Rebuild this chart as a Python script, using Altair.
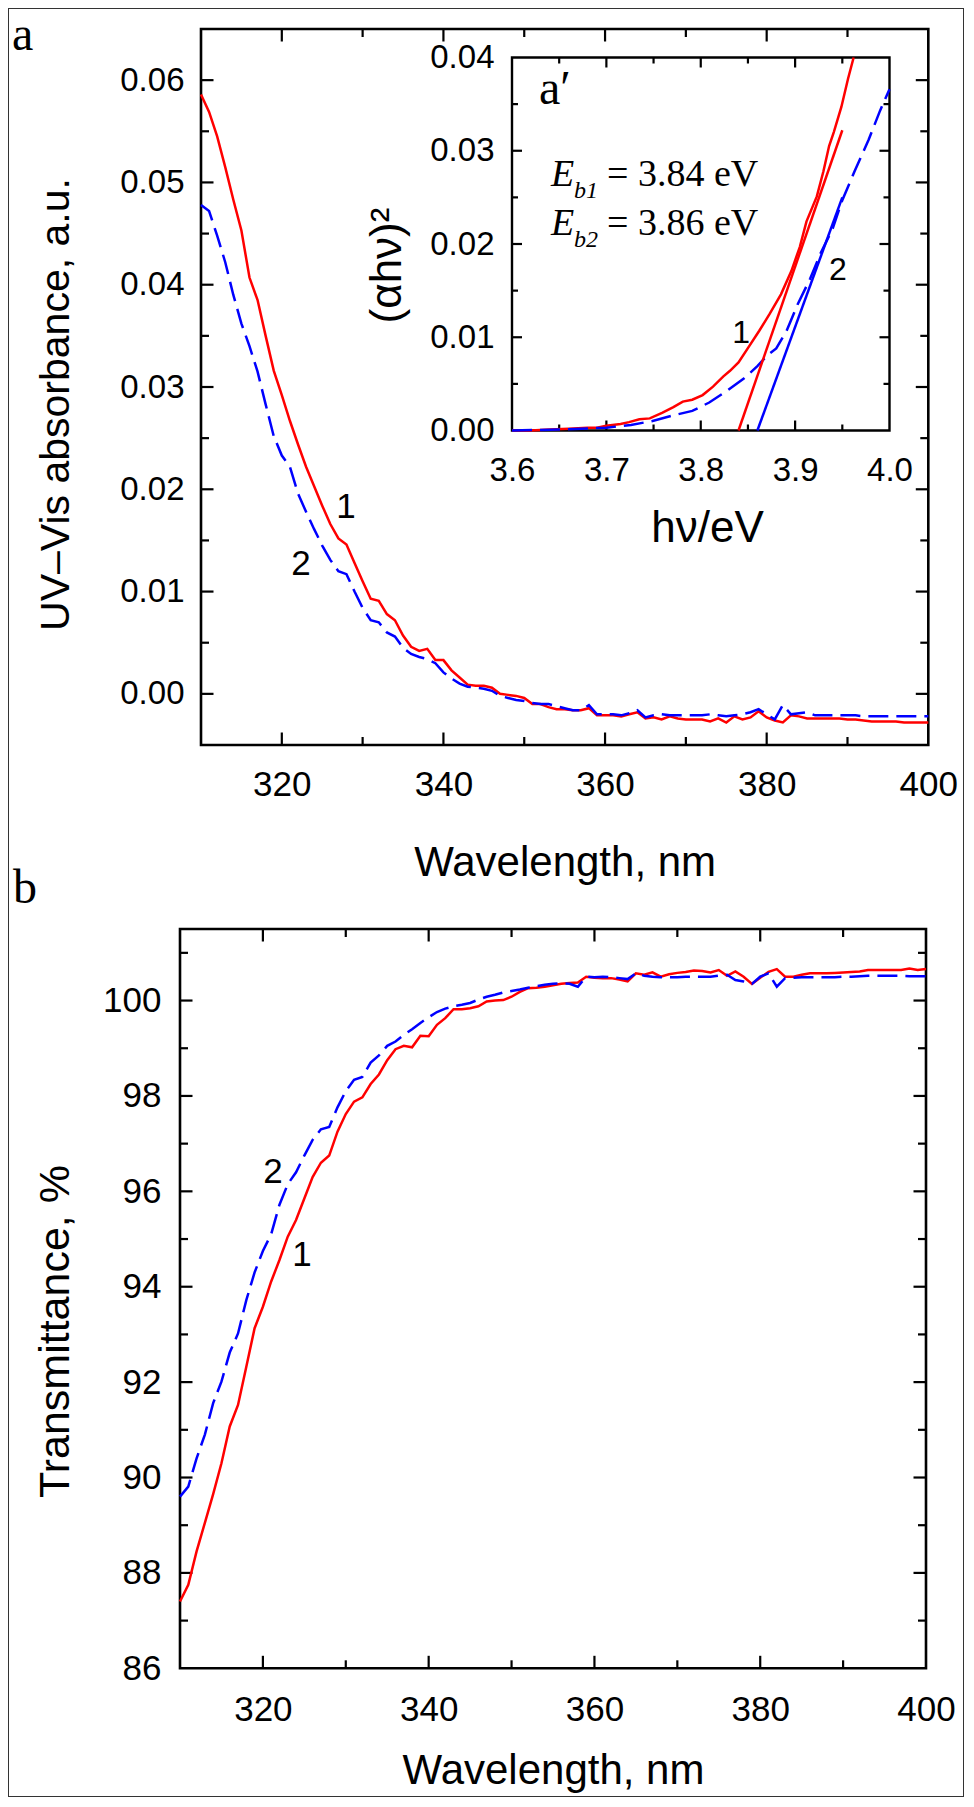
import altair as alt
import pandas as pd

# ---------------- data ----------------
wavelength = list(range(310, 401))

absorbance_1 = [
    0.0586, 0.0569, 0.0545, 0.0515, 0.0483, 0.0453, 0.0407, 0.0385, 0.0350, 0.0316,
    0.0292, 0.0267, 0.0244, 0.0222, 0.0203, 0.0184, 0.0166, 0.0152, 0.0146, 0.0128,
    0.0110, 0.0093, 0.0091, 0.0078, 0.0072, 0.0057, 0.0046, 0.0042, 0.0044, 0.0033,
    0.0033, 0.0023, 0.0016, 0.0009, 0.0008, 0.0008, 0.0006, 0.0000, -0.0001, -0.0002,
    -0.0004, -0.0010, -0.0010, -0.0013, -0.0015, -0.0015, -0.0016, -0.0016, -0.0014, -0.0021,
    -0.0021, -0.0021, -0.0022, -0.0020, -0.0018, -0.0024, -0.0023, -0.0025, -0.0022, -0.0024,
    -0.0025, -0.0025, -0.0025, -0.0027, -0.0024, -0.0028, -0.0022, -0.0025, -0.0023, -0.0017,
    -0.0023, -0.0026, -0.0028, -0.0021, -0.0022, -0.0024, -0.0024, -0.0024, -0.0024, -0.0024,
    -0.0025, -0.0025, -0.0026, -0.0027, -0.0027, -0.0027, -0.0027, -0.0028, -0.0028, -0.0028,
    -0.0028,
]
absorbance_2 = [
    0.0478, 0.0472, 0.0448, 0.0422, 0.0390, 0.0362, 0.0340, 0.0315, 0.0283, 0.0252,
    0.0233, 0.0222, 0.0196, 0.0178, 0.0161, 0.0145, 0.0131, 0.0120, 0.0117, 0.0100,
    0.0084, 0.0072, 0.0070, 0.0060, 0.0056, 0.0045, 0.0039, 0.0036, 0.0034, 0.0030,
    0.0021, 0.0015, 0.0010, 0.0007, 0.0006, 0.0005, 0.0003, -0.0002, -0.0004, -0.0006,
    -0.0007, -0.0009, -0.0010, -0.0010, -0.0012, -0.0014, -0.0016, -0.0016, -0.0011, -0.0020,
    -0.0020, -0.0020, -0.0021, -0.0019, -0.0016, -0.0023, -0.0021, -0.0020, -0.0021, -0.0021,
    -0.0021, -0.0021, -0.0021, -0.0020, -0.0021, -0.0022, -0.0021, -0.0020, -0.0018, -0.0015,
    -0.0020, -0.0025, -0.0011, -0.0020, -0.0019, -0.0018, -0.0021, -0.0021, -0.0021, -0.0021,
    -0.0021, -0.0021, -0.0022, -0.0022, -0.0022, -0.0022, -0.0022, -0.0022, -0.0022, -0.0022,
    -0.0022,
]
transmittance_1 = [
    87.40, 87.75, 88.45, 89.05, 89.65, 90.30, 91.07, 91.52, 92.32, 93.13,
    93.58, 94.11, 94.56, 95.05, 95.40, 95.85, 96.30, 96.60, 96.75, 97.25,
    97.62, 97.88, 97.97, 98.25, 98.45, 98.75, 98.98, 99.05, 99.02, 99.26,
    99.25, 99.49, 99.63, 99.82, 99.82, 99.84, 99.88, 99.98, 100.00, 100.01,
    100.08, 100.18, 100.26, 100.27, 100.29, 100.32, 100.35, 100.37, 100.38, 100.50,
    100.48, 100.47, 100.47, 100.44, 100.40, 100.57, 100.54, 100.59, 100.50, 100.55,
    100.58, 100.60, 100.63, 100.62, 100.59, 100.64, 100.52, 100.61, 100.50, 100.35,
    100.48, 100.60, 100.66, 100.50, 100.50, 100.54, 100.57, 100.57, 100.57, 100.58,
    100.59, 100.60, 100.61, 100.64, 100.64, 100.64, 100.64, 100.64, 100.67, 100.64,
    100.66,
]
transmittance_2 = [
    89.60, 89.81, 90.40, 90.90, 91.56, 92.01, 92.62, 93.02, 93.72, 94.30,
    94.75, 95.10, 95.72, 96.15, 96.40, 96.75, 97.08, 97.30, 97.35, 97.76,
    98.10, 98.34, 98.40, 98.70, 98.85, 99.05, 99.14, 99.28, 99.40, 99.53,
    99.65, 99.76, 99.83, 99.88, 99.91, 99.95, 100.02, 100.08, 100.12, 100.17,
    100.20, 100.23, 100.27, 100.30, 100.33, 100.35, 100.36, 100.35, 100.29, 100.50,
    100.49, 100.50, 100.49, 100.47, 100.45, 100.57, 100.52, 100.50, 100.49, 100.49,
    100.49, 100.50, 100.50, 100.50, 100.50, 100.52, 100.54, 100.43, 100.40, 100.35,
    100.50, 100.57, 100.29, 100.47, 100.48, 100.49, 100.49, 100.49, 100.49, 100.49,
    100.50, 100.50, 100.51, 100.52, 100.52, 100.52, 100.52, 100.52, 100.51, 100.51,
    100.51,
]

inset_hv_1 = [3.600, 3.620, 3.640, 3.660, 3.680, 3.690, 3.700, 3.715, 3.724, 3.735,
              3.746, 3.759, 3.771, 3.781, 3.791, 3.802, 3.813, 3.824, 3.831, 3.840,
              3.851, 3.862, 3.873, 3.885, 3.896, 3.905, 3.912, 3.923, 3.930, 3.936,
              3.941, 3.949, 3.956, 3.962]
inset_val_1 = [0.0, 0.0, 0.0001, 0.0002, 0.0003, 0.0003, 0.0005, 0.0007, 0.0009, 0.0012,
               0.0013, 0.0019, 0.0025, 0.0031, 0.0033, 0.0038, 0.0047, 0.0058, 0.0064, 0.0073,
               0.0090, 0.0107, 0.0125, 0.0146, 0.0171, 0.0197, 0.0224, 0.0251, 0.0278, 0.0305,
               0.0320, 0.0347, 0.0377, 0.0400]
inset_hv_2 = [3.600, 3.650, 3.700, 3.726, 3.748, 3.770, 3.791, 3.809, 3.827, 3.846,
              3.860, 3.871, 3.880, 3.891, 3.903, 3.916, 3.927, 3.940, 3.950, 3.963,
              3.978, 3.990, 4.000]
inset_val_2 = [0.0, 0.0001, 0.0003, 0.0006, 0.0010, 0.0016, 0.0021, 0.0030, 0.0042, 0.0056,
               0.0069, 0.0081, 0.0088, 0.0107, 0.0136, 0.0163, 0.0190, 0.0217, 0.0247, 0.0278,
               0.0312, 0.0343, 0.0366]
fit_hv_1 = [3.84, 3.95]
fit_val_1 = [0.0, 0.0322]
fit_hv_2 = [3.86, 3.95]
fit_val_2 = [0.0, 0.0250]

wl_major = [320, 340, 360, 380]
wl_minor = [330, 350, 370, 390]
wl_labels = [320, 340, 360, 380, 400]
abs_major = [0.0, 0.01, 0.02, 0.03, 0.04, 0.05, 0.06]
abs_minor = [0.005, 0.015, 0.025, 0.035, 0.045, 0.055]
tr_major = [88, 90, 92, 94, 96, 98, 100]
tr_minor = [87, 89, 91, 93, 95, 97, 99, 101]
tr_labels = [86, 88, 90, 92, 94, 96, 98, 100]
hv_major = [3.7, 3.8, 3.9]
hv_minor = [3.65, 3.75, 3.85, 3.95]
hv_labels = [3.6, 3.7, 3.8, 3.9, 4.0]
ins_major = [0.01, 0.02, 0.03]
ins_minor = [0.005, 0.015, 0.025, 0.035]
ins_labels = [0.0, 0.01, 0.02, 0.03, 0.04]

# ---------------- layout / style ----------------
FONT = "Liberation Sans"
SERIF = "Liberation Serif"
RED = "#ff0000"
BLUE = "#0000ff"
W, H = 956, 1789


def xaxis(values, fmt, base, lsize, lpad, title, tsize, tx, ty):
    return alt.Axis(orient="bottom", offset=base - H, values=values, format=fmt,
                    ticks=False, domain=False, grid=False, labelFlush=False,
                    labelOverlap=False, labelFont=FONT, labelFontSize=lsize,
                    labelColor="black", labelPadding=lpad, title=title,
                    titleFont=FONT, titleFontSize=tsize, titleFontWeight="normal",
                    titleColor="black", titleX=tx, titleY=ty,
                    titleBaseline="alphabetic")


def yaxis(values, fmt, base, lsize, lpad, title, tsize, tx, ty):
    return alt.Axis(orient="left", offset=-base, values=values, format=fmt,
                    ticks=False, domain=False, grid=False, labelFlush=False,
                    labelOverlap=False, labelFont=FONT, labelFontSize=lsize,
                    labelColor="black", labelPadding=lpad, title=title,
                    titleFont=FONT, titleFontSize=tsize, titleFontWeight="normal",
                    titleColor="black", titleX=tx, titleY=ty,
                    titleBaseline="alphabetic")


TOP = dict(
    xd=[310, 400], yd=[-0.005, 0.065],
    xs=alt.Scale(domain=[310, 400], range=[193, 920.3], nice=False, zero=False),
    ys=alt.Scale(domain=[-0.005, 0.065], range=[737, 21], nice=False, zero=False),
    xa=xaxis(wl_labels, "d", 737, 35, 22, "Wavelength, nm", 42, 556.6, 130),
    ya=yaxis(abs_major, ".2f", 193, 33, 17, "UV–Vis absorbance, a.u.", 41, -133, 396),
)
INSET = dict(
    xd=[3.6, 4.0], yd=[0.0, 0.04],
    xs=alt.Scale(domain=[3.6, 4.0], range=[504, 881.5], nice=False, zero=False),
    ys=alt.Scale(domain=[0.0, 0.04], range=[422.5, 49.5], nice=False, zero=False),
    xa=xaxis(hv_labels, ".1f", 422.5, 33, 23.5, "hν/eV", 44, 699, 111),
    ya=yaxis(ins_labels, ".2f", 504, 33, 18, "(αhν)²", 44, -112, 257),
)
BOT = dict(
    xd=[310, 400], yd=[86, 101.5],
    xs=alt.Scale(domain=[310, 400], range=[172, 918], nice=False, zero=False),
    ys=alt.Scale(domain=[86, 101.5], range=[1660.3, 921], nice=False, zero=False),
    xa=xaxis(wl_labels, "d", 1660.3, 35, 24, "Wavelength, nm", 42, 545, 114.7),
    ya=yaxis(tr_labels, "d", 172, 35, 19, "Transmittance, %", 43, -112, 1323),
)


def X(p, field=None, datum=None):
    if field is not None:
        return alt.X(field, type="quantitative", scale=p["xs"], axis=p["xa"])
    return alt.XDatum(datum, type="quantitative", scale=p["xs"], axis=p["xa"])


def Y(p, field=None, datum=None):
    if field is not None:
        return alt.Y(field, type="quantitative", scale=p["ys"], axis=p["ya"])
    return alt.YDatum(datum, type="quantitative", scale=p["ys"], axis=p["ya"])


ONE = pd.DataFrame({"k": [0]})


def frame(p, fill=None, sw=2.6):
    (x0, x1), (y0, y1) = p["xd"], p["yd"]
    mk = dict(stroke="black", strokeWidth=sw)
    if fill:
        mk["fill"] = fill
    else:
        mk["filled"] = False
    return alt.Chart(ONE).mark_rect(**mk).encode(
        x=X(p, datum=x0), x2=alt.X2Datum(x1), y=Y(p, datum=y0), y2=alt.Y2Datum(y1))


def ticks(p, xvals, yvals, length, sw=2.2):
    (x0, x1), (y0, y1) = p["xd"], p["yd"]
    xdf = pd.DataFrame({"v": xvals})
    ydf = pd.DataFrame({"v": yvals})
    st = dict(color="black", strokeWidth=sw)
    return [
        alt.Chart(ydf).mark_rule(x2Offset=length, **st).encode(
            x=X(p, datum=x0), x2=alt.X2Datum(x0), y=Y(p, "v")),
        alt.Chart(ydf).mark_rule(x2Offset=-length, **st).encode(
            x=X(p, datum=x1), x2=alt.X2Datum(x1), y=Y(p, "v")),
        alt.Chart(xdf).mark_rule(y2Offset=-length, **st).encode(
            x=X(p, "v"), y=Y(p, datum=y0), y2=alt.Y2Datum(y0)),
        alt.Chart(xdf).mark_rule(y2Offset=length, **st).encode(
            x=X(p, "v"), y=Y(p, datum=y1), y2=alt.Y2Datum(y1)),
    ]


def line(p, xs, ys, color, dash=None, sw=2.5):
    df = pd.DataFrame({"x": xs, "y": ys})
    mk = dict(color=color, strokeWidth=sw)
    if dash:
        mk["strokeDash"] = dash
    return alt.Chart(df).mark_line(**mk).encode(x=X(p, "x"), y=Y(p, "y"))


def text(p, xs, ys, ts, font=FONT, size=35, align="center", style="normal"):
    df = pd.DataFrame({"x": xs, "y": ys, "t": ts})
    return alt.Chart(df).mark_text(font=font, fontSize=size, align=align,
                                   baseline="alphabetic", fontStyle=style,
                                   color="black").encode(
        x=X(p, "x"), y=Y(p, "y"), text="t:N")


DASH = [20, 8]

top_layer = alt.layer(
    frame(TOP),
    *ticks(TOP, wl_major, abs_major, 12.5),
    *ticks(TOP, wl_minor, abs_minor, 8),
    line(TOP, wavelength, absorbance_1, RED),
    line(TOP, wavelength, absorbance_2, BLUE, DASH),
    text(TOP, [327.94, 322.37], [0.01719, 0.01162], ["1", "2"], size=35),
    text(TOP, [286.6], [0.06295], ["a"], font=SERIF, size=48, align="left"),
)

inset_layer = alt.layer(
    frame(INSET, fill="white", sw=2.4),
    *ticks(INSET, hv_major, ins_major, 10),
    *ticks(INSET, hv_minor, ins_minor, 6),
    line(INSET, inset_hv_1, inset_val_1, RED),
    line(INSET, inset_hv_2, inset_val_2, BLUE, DASH),
    line(INSET, fit_hv_1, fit_val_1, RED),
    line(INSET, fit_hv_2, fit_val_2, BLUE),
    text(INSET, [3.8427, 3.9454], [0.00939, 0.0161], ["1", "2"], size=32),
    text(INSET, [3.6286], [0.03506], ["a′"], font=SERIF, size=48, align="left"),
    text(INSET, [3.6413, 3.6413], [0.02625, 0.02097], ["E", "E"], font=SERIF,
         size=38, align="left", style="italic"),
    text(INSET, [3.6657, 3.6657], [0.02493, 0.01968], ["b1", "b2"], font=SERIF,
         size=24, align="left", style="italic"),
    text(INSET, [3.7007, 3.7007], [0.02625, 0.02097], ["= 3.84 eV", "= 3.86 eV"],
         font=SERIF, size=38, align="left"),
)

bottom_layer = alt.layer(
    frame(BOT),
    *ticks(BOT, wl_major, tr_major, 12.5),
    *ticks(BOT, wl_minor, tr_minor, 8),
    line(BOT, wavelength, transmittance_1, RED),
    line(BOT, wavelength, transmittance_2, BLUE, DASH),
    text(BOT, [324.72, 321.22], [94.44, 96.17], ["1", "2"], size=35),
    text(BOT, [289.85], [102.05], ["b"], font=SERIF, size=48, align="left"),
)

chart = (
    alt.layer(top_layer, inset_layer, bottom_layer)
    .resolve_scale(x="independent", y="independent")
    .properties(width=W, height=H, padding=0, background="white")
    .configure(font=FONT)
    .configure_view(stroke="#333333", strokeWidth=2)
)

chart.save("out.html", embed_options={"renderer": "svg", "actions": False})
